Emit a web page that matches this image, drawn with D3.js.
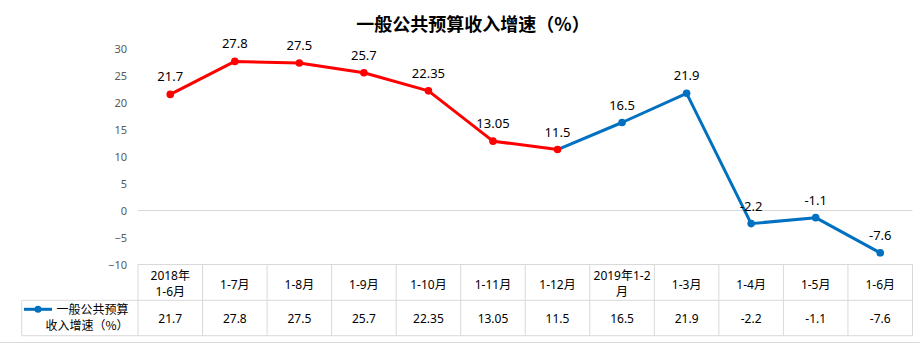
<!DOCTYPE html>
<html>
<head>
<meta charset="utf-8">
<script src="https://cdn.jsdelivr.net/npm/d3@7/dist/d3.min.js"></script>
<style>
  html, body { margin: 0; padding: 0; background: #fff; }
  svg { display: block; font-family: "Noto Sans", "Noto Sans CJK SC", sans-serif; }
</style>
</head>
<body>
<svg id="chart" width="920" height="344"></svg>
<script>
// Period labels ("\n" marks a line break in the table header)
const categories = ["2018年\n1-6月", "1-7月", "1-8月", "1-9月", "1-10月", "1-11月", "1-12月",
                    "2019年1-2\n月", "1-3月", "1-4月", "1-5月", "1-6月"];
// Growth rate of general public budget revenue, %
const values = [21.7, 27.8, 27.5, 25.7, 22.35, 13.05, 11.5, 16.5, 21.9, -2.2, -1.1, -7.6];
const valueLabels = ["21.7", "27.8", "27.5", "25.7", "22.35", "13.05", "11.5", "16.5", "21.9", "-2.2", "-1.1", "-7.6"];
// Index of the last 2018 period
const lastIndex2018 = 6;
const yTicks = [-10, -5, 0, 5, 10, 15, 20, 25, 30];
const seriesName = ["一般公共预算", "收入增速（%）"];
const titleText = "一般公共预算收入增速（%）";

const RED = "#FF0000", BLUE = "#0070C0", GRID = "#D9D9D9";

const svg = d3.select("#chart");

const plotLeft = 138, plotRight = 912.5, plotTop = 49.5, plotBottom = 265.8;
const tableMid = 300.3, tableBottom = 335.7, legendLeft = 21.7;

const x = d3.scaleBand().domain(d3.range(categories.length)).range([plotLeft, plotRight]).padding(0);
const cx = i => x(i) + x.bandwidth() / 2;
const y = d3.scaleLinear().domain([-10, 30]).range([plotBottom, plotTop]);

// Title
svg.append("text")
  .attr("x", 473).attr("y", 31)
  .attr("text-anchor", "middle")
  .style("font-family", "'Noto Sans CJK SC', sans-serif")
  .style("font-size", "18px").style("font-weight", "bold").style("fill", "#000")
  .text(titleText);

// Y axis labels
const yAxis = d3.axisLeft(y).tickValues(yTicks).tickSize(0).tickPadding(0);
const gy = svg.append("g").attr("transform", `translate(${plotLeft - 11},-1)`).call(yAxis);
gy.select(".domain").remove();
gy.selectAll("text").style("font-size", "11px").style("fill", "#595959")
  .style("font-family", "'Noto Sans', sans-serif");

// Zero line
const y0 = Math.floor(y(0)) - 0.5;
svg.append("line")
  .attr("x1", plotLeft).attr("x2", plotRight)
  .attr("y1", y0).attr("y2", y0)
  .attr("stroke", GRID).attr("stroke-width", 1);

// Data table grid
const grid = svg.append("g").attr("stroke", GRID).attr("stroke-width", 1).attr("fill", "none");
const hl = (x1, x2, yy) => grid.append("line").attr("x1", x1).attr("x2", x2).attr("y1", yy).attr("y2", yy);
const vl = (xx, y1, y2) => grid.append("line").attr("x1", xx).attr("x2", xx).attr("y1", y1).attr("y2", y2);
const axisY = Math.floor(y(-10)) - 0.5;
hl(plotLeft, plotRight, axisY);
hl(legendLeft, plotRight, tableMid);
hl(legendLeft, plotRight, tableBottom);
vl(legendLeft, tableMid, tableBottom);
d3.range(categories.length + 1).forEach(i => {
  const xx = i < categories.length ? x(i) : plotRight;
  vl(xx, axisY, tableBottom);
});
// Outer bottom border
hl(0, 920, 342.5);

// Header cells
const header = svg.append("g").style("font-size", "12px").style("fill", "#000")
  .style("font-family", "'Noto Sans', 'Noto Sans CJK SC', sans-serif");
categories.forEach((c, i) => {
  const lines = c.split("\n");
  const t = header.append("text").attr("text-anchor", "middle");
  if (lines.length === 1) {
    t.append("tspan").attr("x", cx(i)).attr("y", 288.5).text(lines[0]);
  } else {
    lines.forEach((ln, k) => t.append("tspan").attr("x", cx(i)).attr("y", 279.5 + k * 16.5).text(ln));
  }
});

// Value cells
const cells = svg.append("g").style("font-size", "12px").style("fill", "#000")
  .style("font-family", "'Noto Sans', sans-serif");
values.forEach((v, i) => {
  cells.append("text").attr("x", cx(i)).attr("y", 322.5).attr("text-anchor", "middle").text(valueLabels[i]);
});

// Legend key inside the table
svg.append("line").attr("x1", 24).attr("x2", 52).attr("y1", 309.3).attr("y2", 309.3)
  .attr("stroke", BLUE).attr("stroke-width", 3);
svg.append("circle").attr("cx", 38).attr("cy", 309.3).attr("r", 3.5).attr("fill", BLUE);
const leg = svg.append("text").attr("text-anchor", "end").style("font-size", "12px").style("fill", "#000")
  .style("font-family", "'Noto Sans CJK SC', sans-serif");
seriesName.forEach((s, k) => leg.append("tspan").attr("x", 128.5).attr("y", 313.5 + k * 16.5).text(s));

// Line segments: 2018 periods in red, 2019 periods in blue
const pts = values.map((v, i) => ({ i, v }));
const line = d3.line().x(d => cx(d.i)).y(d => y(d.v));
svg.append("path").datum(pts.slice(0, lastIndex2018 + 1)).attr("d", line)
  .attr("fill", "none").attr("stroke", RED).attr("stroke-width", 3).attr("stroke-linejoin", "round");
svg.append("path").datum(pts.slice(lastIndex2018)).attr("d", line)
  .attr("fill", "none").attr("stroke", BLUE).attr("stroke-width", 3).attr("stroke-linejoin", "round");

// Markers
svg.append("g").selectAll("circle").data(pts).join("circle")
  .attr("cx", d => cx(d.i)).attr("cy", d => y(d.v)).attr("r", 3.8)
  .attr("fill", d => d.i <= lastIndex2018 ? RED : BLUE);

// Data labels
svg.append("g").style("font-size", "13px").style("fill", "#000")
  .style("font-family", "'Noto Sans', sans-serif")
  .selectAll("text").data(pts).join("text")
  .attr("x", d => cx(d.i)).attr("y", d => y(d.v) - 13)
  .attr("text-anchor", "middle")
  .text(d => valueLabels[d.i]);
</script>
</body>
</html>
